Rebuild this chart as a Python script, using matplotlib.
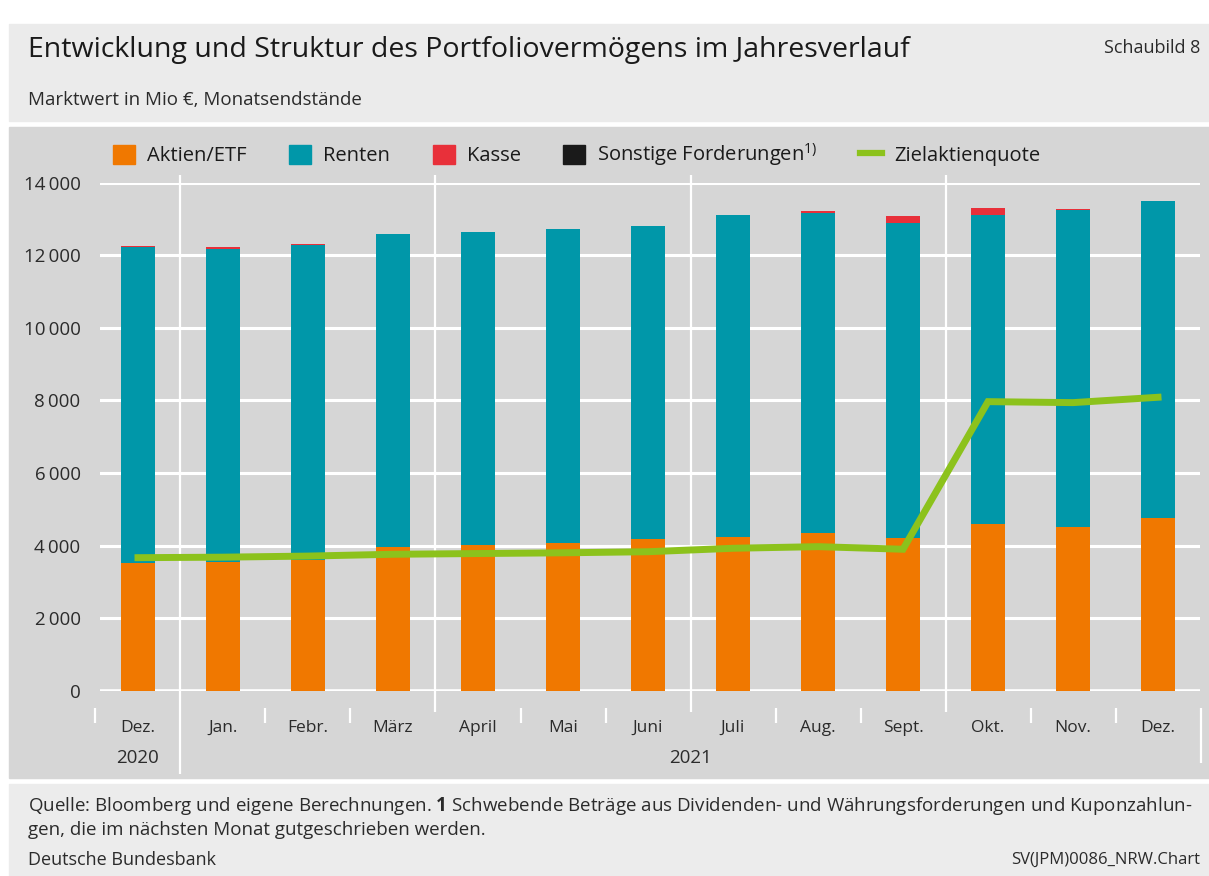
import matplotlib
matplotlib.use('Agg')
import matplotlib.pyplot as plt
import matplotlib.patches as mpatches
from matplotlib.lines import Line2D
from matplotlib.ticker import FuncFormatter
import numpy as np

plt.rcParams['font.family'] = ['Open Sans', 'DejaVu Sans']
plt.rcParams['mathtext.fontset'] = 'custom'
plt.rcParams['mathtext.rm'] = 'Open Sans'
plt.rcParams['mathtext.bf'] = 'Open Sans:bold'
plt.rcParams['mathtext.default'] = 'regular'

# Monatsendstaende in Mio Euro
months = ['Dez.', 'Jan.', 'Febr.', 'März', 'April', 'Mai', 'Juni',
          'Juli', 'Aug.', 'Sept.', 'Okt.', 'Nov.', 'Dez.']
years = ['2020', '2021']
aktien = [3512, 3539, 3602, 3953, 4016, 4071, 4173, 4228, 4338, 4200, 4595, 4521, 4769]
renten = [8709, 8644, 8683, 8635, 8618, 8655, 8636, 8892, 8838, 8683, 8516, 8737, 8728]
kasse = [27, 38, 27, 0, 0, 0, 0, 0, 46, 192, 185, 19, 0]
sonstige = [0, 0, 0, 0, 0, 0, 0, 0, 0, 0, 0, 0, 0]
ziel = [3666, 3680, 3710, 3760, 3780, 3800, 3830, 3925, 3970, 3898, 7966, 7939, 8087]
yticks = [0, 2000, 4000, 6000, 8000, 10000, 12000, 14000]

C_AKT = '#f07800'
C_REN = '#0097a9'
C_KAS = '#e8303a'
C_SON = '#1a1a1a'
C_ZIEL = '#8cc21c'
TXT = '#2b2b2b'

W, H = 1209, 876
fig = plt.figure(figsize=(W / 100, H / 100), dpi=100)
fig.patch.set_facecolor('white')

def band(x0, y0, x1, y1, color):
    # rectangle in pixel coords measured from top left
    fig.patches.append(mpatches.Rectangle((x0 / W, 1 - y1 / H), (x1 - x0) / W, (y1 - y0) / H,
                                          transform=fig.transFigure, color=color, zorder=-10))

band(9, 24, W, 121, '#ebebeb')
band(9, 127, W, 778, '#d6d6d6')
band(9, 784, W, H, '#ececec')

fig.text(28 / W, 1 - 50 / H, 'Entwicklung und Struktur des Portfoliovermögens im Jahresverlauf',
         fontsize=20.5, color='#1a1a1a', va='center', ha='left')
fig.text(1200 / W, 1 - 48 / H, 'Schaubild 8', fontsize=13, color=TXT, va='center', ha='right')
fig.text(28 / W, 1 - 100 / H, 'Marktwert in Mio €, Monatsendstände', fontsize=13.5, color=TXT,
         va='center', ha='left')

ax = fig.add_axes([100 / W, 1 - 690.7 / H, 1100 / W, 508 / H])
ax.set_zorder(2)
ax.set_facecolor('none')
for s in ax.spines.values():
    s.set_visible(False)

x = np.arange(len(months))
akt = np.array(aktien)
ren = np.array(renten)
kas = np.array(kasse)
son = np.array(sonstige)

bw = 0.4
ax.bar(x, akt, bw, color=C_AKT, zorder=3)
ax.bar(x, ren, bw, bottom=akt, color=C_REN, zorder=3)
ax.bar(x, kas, bw, bottom=akt + ren, color=C_KAS, zorder=3)
ax.bar(x, son, bw, bottom=akt + ren + kas, color=C_SON, zorder=3)
ax.plot(x, ziel, color=C_ZIEL, lw=5, solid_joinstyle='miter', zorder=4)

ax.set_xlim(-0.447, 12.494)
ax.set_ylim(0, 14000)

# horizontal grid
for v in yticks:
    ax.axhline(v, color='white', lw=2.6 if v == 0 else 2.2, zorder=1)

# quarter separators and month ticks
for b in [0.5, 3.5, 6.5, 9.5]:
    ax.vlines(b, -600, 14200, color='white', lw=1.6, zorder=1, clip_on=False)
ax.vlines(0.5, -2300, -600, color='white', lw=1.6, zorder=1, clip_on=False)
ax.vlines(12.5, -2000, -480, color='white', lw=1.6, zorder=1, clip_on=False)
for b in [-0.5, 1.5, 2.5, 4.5, 5.5, 7.5, 8.5, 10.5, 11.5]:
    ax.vlines(b, -900, -480, color='white', lw=1.6, zorder=1, clip_on=False)

ax.set_yticks(yticks)
ax.yaxis.set_major_formatter(FuncFormatter(lambda v, p: '{:,.0f}'.format(v).replace(',', '\u2009')))
ax.tick_params(axis='y', length=0, pad=14, labelsize=13.5, labelcolor=TXT)
ax.set_xticks([])

for i, m in enumerate(months):
    ax.text(i, -1030, m, ha='center', va='center', fontsize=12.5, color=TXT)
ax.text(0, -1860, years[0], ha='center', va='center', fontsize=13.5, color=TXT)
ax.text(6.5, -1860, years[1], ha='center', va='center', fontsize=13.5, color=TXT)

handles = [mpatches.Patch(color=C_AKT, label='Aktien/ETF'),
           mpatches.Patch(color=C_REN, label='Renten'),
           mpatches.Patch(color=C_KAS, label='Kasse'),
           mpatches.Patch(color=C_SON, label='Sonstige Forderungen$^{1)}$'),
           Line2D([], [], color=C_ZIEL, lw=4.5, label='Zielaktienquote')]
leg = fig.legend(handles=handles, loc='center left', bbox_to_anchor=(113 / W, 1 - 155 / H),
                 ncol=5, frameon=False, fontsize=14.5, handlelength=1.1, handleheight=1.1,
                 handletextpad=0.6, columnspacing=2.1, borderpad=0, borderaxespad=0)
for t in leg.get_texts():
    t.set_color('#1a1a1a')

fig.text(28 / W, 1 - 806 / H,
         'Quelle: Bloomberg und eigene Berechnungen. $\\mathbf{1}$ Schwebende Beträge aus Dividenden- '
         'und Währungsforderungen und Kuponzahlun-',
         fontsize=13.5, color=TXT, va='center', ha='left')
fig.text(28 / W, 1 - 830 / H, 'gen, die im nächsten Monat gutgeschrieben werden.',
         fontsize=13.5, color=TXT, va='center', ha='left')
fig.text(28 / W, 1 - 860 / H, 'Deutsche Bundesbank', fontsize=13, color=TXT, va='center', ha='left')
fig.text(1200 / W, 1 - 860 / H, 'SV(JPM)0086_NRW.Chart', fontsize=12, color=TXT,
         va='center', ha='right')

fig.savefig('out.png', dpi=100)
